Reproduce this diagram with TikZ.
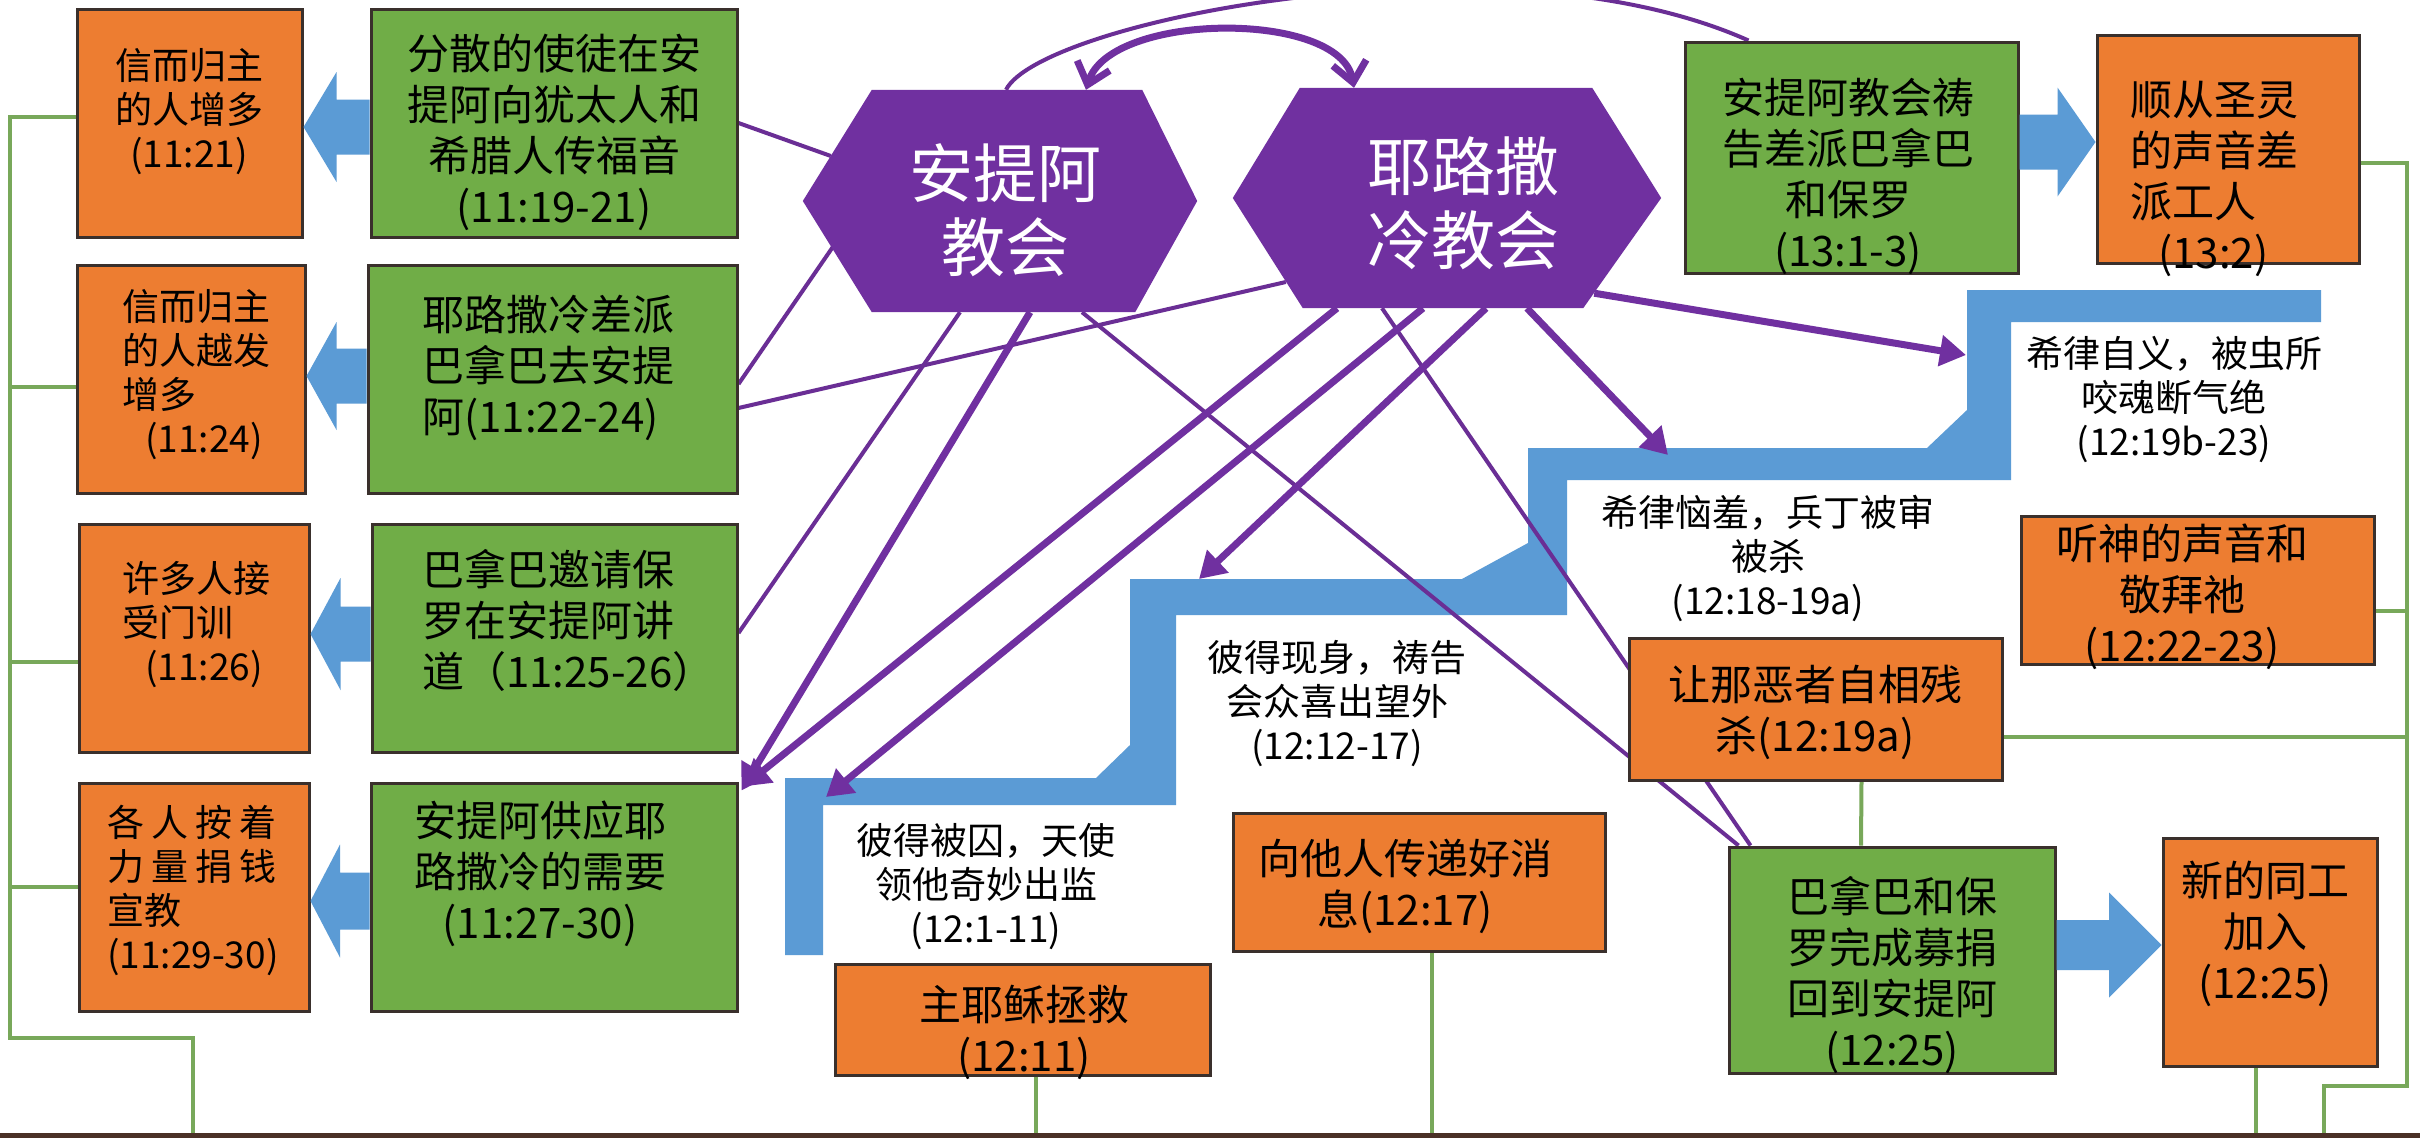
\documentclass[tikz,border=0pt]{standalone}
\usepackage{fontspec}
\setmainfont{Noto Sans CJK SC}
\usetikzlibrary{arrows.meta,calc}
\definecolor{orangec}{HTML}{ED7D31}
\definecolor{greenc}{HTML}{70AD47}
\definecolor{purplec}{HTML}{7030A0}
\definecolor{thinp}{HTML}{6A2E95}
\definecolor{bluec}{HTML}{5B9BD5}
\definecolor{glinec}{HTML}{78A85A}
\definecolor{boxlinec}{HTML}{3A302C}
\definecolor{basec}{HTML}{4A3026}
\pgfdeclarelayer{bg}
\pgfdeclarelayer{stair}
\pgfdeclarelayer{lines}
\pgfdeclarelayer{hex}
\pgfdeclarelayer{front}
\pgfsetlayers{bg,stair,lines,hex,main,front}
\newcommand{\blockarr}[5]{%
  \fill[bluec] let \p1=(#1), \p2=(#2), \p3=(0,#3) in
  (\x1,\y3+#4pt) -- ({(\x1+\x2)/2},\y3+#4pt) -- ({(\x1+\x2)/2},\y3+#5pt) -- (\x2,\y3)
  -- ({(\x1+\x2)/2},\y3-#5pt) -- ({(\x1+\x2)/2},\y3-#4pt) -- (\x1,\y3-#4pt) -- cycle;}
\newcommand{\hexfill}[5]{%
  \fill[purplec] (#1.west) -- ($(#1.north west)+(#2,0)$) -- ($(#1.north east)+(-#3,0)$)
  -- (#1.east) -- ($(#1.south east)+(-#4,0)$) -- ($(#1.south west)+(#5,0)$) -- cycle;}
\tikzset{
  basebox/.style={draw=boxlinec, line width=3pt, inner sep=0pt},
  obox/.style={basebox, fill=orangec},
  gbox/.style={basebox, fill=greenc},
  hexnode/.style={inner sep=0pt},
  bigtxt/.style={font=\fontsize{42pt}{51pt}\selectfont, inner sep=0pt, align=center},
  smalltxt/.style={font=\fontsize{37pt}{44pt}\selectfont, inner sep=0pt, align=center},
  hextext/.style={font=\fontsize{64pt}{74pt}\selectfont, text=white, inner sep=0pt, align=center},
  thinline/.style={draw=thinp, line width=4pt},
  parrow/.style={draw=purplec, line width=7pt, -{Triangle[length=26pt,width=30pt]}},
  gl/.style={draw=glinec, line width=4pt},
}
\begin{document}
\begin{tikzpicture}[x=1pt,y=-1pt]
\useasboundingbox (0,0) rectangle (2420,1138);
\begin{pgfonlayer}{bg}
\fill[white] (0,0) rectangle (2420,1138);
\end{pgfonlayer}

% ---------- boxes ----------
\node[obox, minimum width=225pt, minimum height=228pt] (a1) at (189.5,123) {};
\node[obox, minimum width=228pt, minimum height=228pt] (a2) at (191,379) {};
\node[obox, minimum width=230pt, minimum height=228pt] (a3) at (194,638) {};
\node[obox, minimum width=230pt, minimum height=228pt] (a4) at (194,897) {};
\node[gbox, minimum width=366pt, minimum height=228pt] (g1) at (554,123) {};
\node[gbox, minimum width=369pt, minimum height=228pt] (g2) at (552.5,379) {};
\node[gbox, minimum width=365pt, minimum height=228pt] (g3) at (554.5,638) {};
\node[gbox, minimum width=366pt, minimum height=228pt] (g4) at (554,897) {};
\node[gbox, minimum width=333pt, minimum height=231pt] (rg) at (1851.5,157.5) {};
\node[obox, minimum width=262pt, minimum height=228pt] (ro) at (2228,149) {};
\node[obox, minimum width=373pt, minimum height=142pt] (kill) at (1815.5,709) {};
\node[obox, minimum width=353pt, minimum height=148pt] (hear) at (2197.5,590) {};
\node[gbox, minimum width=326pt, minimum height=226pt] (bp) at (1892,960) {};
\node[obox, minimum width=214pt, minimum height=228pt] (nw) at (2270,952) {};
\node[obox, minimum width=375pt, minimum height=111pt] (lord) at (1022.5,1019.5) {};
\node[obox, minimum width=372pt, minimum height=138pt] (tell) at (1419,882) {};
\node[hexnode, minimum width=394pt, minimum height=222pt] (ant) at (1000,201) {};
\node[hexnode, minimum width=428pt, minimum height=220pt] (jer) at (1447,198) {};

% ---------- texts ----------
\node[smalltxt] at (189,112) {信而归主\\的人增多\\(11:21)};
\node[smalltxt, align=left, anchor=west] at (122,375) {信而归主\\的人越发\\增多\\\hspace*{23pt}(11:24)};
\node[smalltxt, align=left, anchor=west] at (122,625) {许多人接\\受门训\\\hspace*{23pt}(11:26)};
\node[smalltxt, align=left, anchor=west] at (107,890) {各\kern7pt 人\kern7pt 按\kern7pt 着\\力\kern7pt 量\kern7pt 捐\kern7pt 钱\\宣教\\(11:29-30)};
\node[bigtxt] at (554,132) {分散的使徒在安\\提阿向犹太人和\\希腊人传福音\\(11:19-21)};
\node[bigtxt, align=left, anchor=west] at (422,368) {耶路撒冷差派\\巴拿巴去安提\\阿(11:22-24)};
\node[bigtxt, align=left, anchor=west] at (422,620) {巴拿巴邀请保\\罗在安提阿讲\\道（11:25-26）};
\node[bigtxt] at (540,874) {安提阿供应耶\\路撒冷的需要\\(11:27-30)};
\node[bigtxt] at (1848,176) {安提阿教会祷\\告差派巴拿巴\\和保罗\\(13:1-3)};
\node[bigtxt, align=left, anchor=west] at (2130,178.5) {顺从圣灵\\的声音差\\派工人\\\hspace*{28pt}(13:2)};
\node[bigtxt] at (1815,712) {让那恶者自相残\\杀(12:19a)};
\node[bigtxt] at (2182,597) {听神的声音和\\敬拜祂\\(12:22-23)};
\node[bigtxt] at (1892,975) {巴拿巴和保\\罗完成募捐\\回到安提阿\\(12:25)};
\node[bigtxt] at (2265,934) {新的同工\\加入\\(12:25)};
\node[bigtxt] at (1024,1032) {主耶稣拯救\\(12:11)};
\node[bigtxt] at (1405,886) {向他人传递好消\\息(12:17)};
\node[hextext] at (1005,210) {安提阿\\教会};
\node[hextext] at (1463,203) {耶路撒\\冷教会};
\node[smalltxt] (f1) at (986,887) {彼得被囚，天使\\领他奇妙出监\\(12:1-11)};
\node[smalltxt] (f2) at (1337,704) {彼得现身，祷告\\会众喜出望外\\(12:12-17)};
\node[smalltxt] (f3) at (1768,558) {希律恼羞，兵丁被审\\被杀\\(12:18-19a)};
\node[smalltxt] (f4) at (2174,400) {希律自义，被虫所\\咬魂断气绝\\(12:19b-23)};

% ---------- blue block arrows ----------
\blockarr{g1.west}{a1.east}{127}{27.5}{55}
\blockarr{g2.west}{a2.east}{376}{27.5}{54}
\blockarr{g3.west}{a3.east}{634}{27.5}{56}
\blockarr{g4.west}{a4.east}{901}{28.5}{56.5}
\blockarr{rg.east}{ro.west}{142}{27.5}{54.5}
\blockarr{bp.east}{nw.west}{945}{25}{52.5}

% ---------- staircase ----------
\begin{pgfonlayer}{stair}
\fill[bluec] (785,955) -- (785,778) -- (1096,778) -- (1130,745) -- (1130,579) -- (1462,579)
  -- (1528,543) -- (1528,448) -- (1927,448) -- (1967,410) -- (1967,290) -- (2321,290)
  -- (2321,322) -- (2011,322) -- (2011,480) -- (1567,480) -- (1567,615) -- (1176,615)
  -- (1176,805) -- (823,805) -- (823,955) -- cycle;
\end{pgfonlayer}
\coordinate (s1) at (826,797);
\coordinate (s2) at (1199,579);
\coordinate (s3) at (1668,455);
\coordinate (s4) at (1966,355);

% ---------- hexagons ----------
\begin{pgfonlayer}{hex}
\hexfill{ant}{69}{55}{62}{69}
\hexfill{jer}{67}{69}{78}{70}
\end{pgfonlayer}

% ---------- thin lines and green lines ----------
\coordinate (bl1) at (193,1135);
\coordinate (br) at (2324,1135);
\coordinate (bnw) at (2256,1135);
\coordinate (blord) at (1036,1135);
\coordinate (btell) at (1432,1135);
\begin{pgfonlayer}{lines}
\draw[thinline] (g1.east) -- ($(ant.west)+(28,-45)$);
\draw[thinline] ($(g2.east)+(0,5)$) -- ($(ant.west)+(30,46)$);
\draw[thinline] ($(g2.east)+(0,29)$) -- ($(jer.west)+(53,84)$);
\draw[thinline] ($(g3.east)+(0,-5)$) -- ($(ant.south)+(-40,0)$);
\draw[thinline] ($(ant.south)+(82,0)$) -- ($(bp.north west)+(11,0)$);
\draw[thinline] ($(jer.south)+(-65,0)$) -- ($(bp.north west)+(23,0)$);
\draw[thinline] ($(ant.north)+(6,0)$) .. controls +(34,-68) and +(-250,-112) .. ($(rg.north west)+(65,0)$);

\draw[gl] ($(a1.west)+(0,-6)$) -| (10,1038) -| (bl1);
\draw[gl] ($(a2.west)+(0,8)$) -- +(-67,0);
\draw[gl] ($(a3.west)+(0,24)$) -- +(-69,0);
\draw[gl] ($(a4.west)+(0,-10)$) -- +(-69,0);
\draw[gl] ($(ro.east)+(0,14)$) -| (2407,1086) -| (br);
\draw[gl] ($(hear.east)+(0,21)$) -- +(33,0);
\draw[gl] ($(kill.east)+(0,28)$) -- +(405,0);
\draw[gl] ($(kill.south)+(46,0)$) -- ($(bp.north)+(-31,0)$);
\draw[gl] ($(nw.south)+(-14,0)$) -- (bnw);
\draw[gl] ($(lord.south)+(13.5,0)$) -- (blord);
\draw[gl] ($(tell.south)+(13,0)$) -- (btell);
\end{pgfonlayer}

% ---------- thick purple arrows ----------
\begin{pgfonlayer}{front}
\draw[parrow] ($(ant.south)+(30,0)$) -- ($(g4.north east)+(3,9)$);
\draw[parrow] ($(jer.south)+(-110,0)$) -- ($(g4.north east)+(5,5)$);
\draw[parrow] ($(jer.south)+(-24,0)$) -- (s1);
\draw[parrow] ($(jer.south)+(39,0)$) -- (s2);
\draw[parrow] ($(jer.south)+(80,0)$) -- (s3);
\draw[parrow] ($(jer.south east)+(-67,-15)$) -- (s4);
\draw[draw=purplec, line width=7pt, {Straight Barb[length=20pt,width=34pt]}-{Straight Barb[length=20pt,width=34pt]}]
  ($(ant.north)+(86,0)$) .. controls +(24,-78) and +(-14,-78) .. ($(jer.north)+(-93,0)$);
\draw[draw=basec, line width=5pt] (0,1135.5) -- (2420,1135.5);
\end{pgfonlayer}
\end{tikzpicture}
\end{document}
